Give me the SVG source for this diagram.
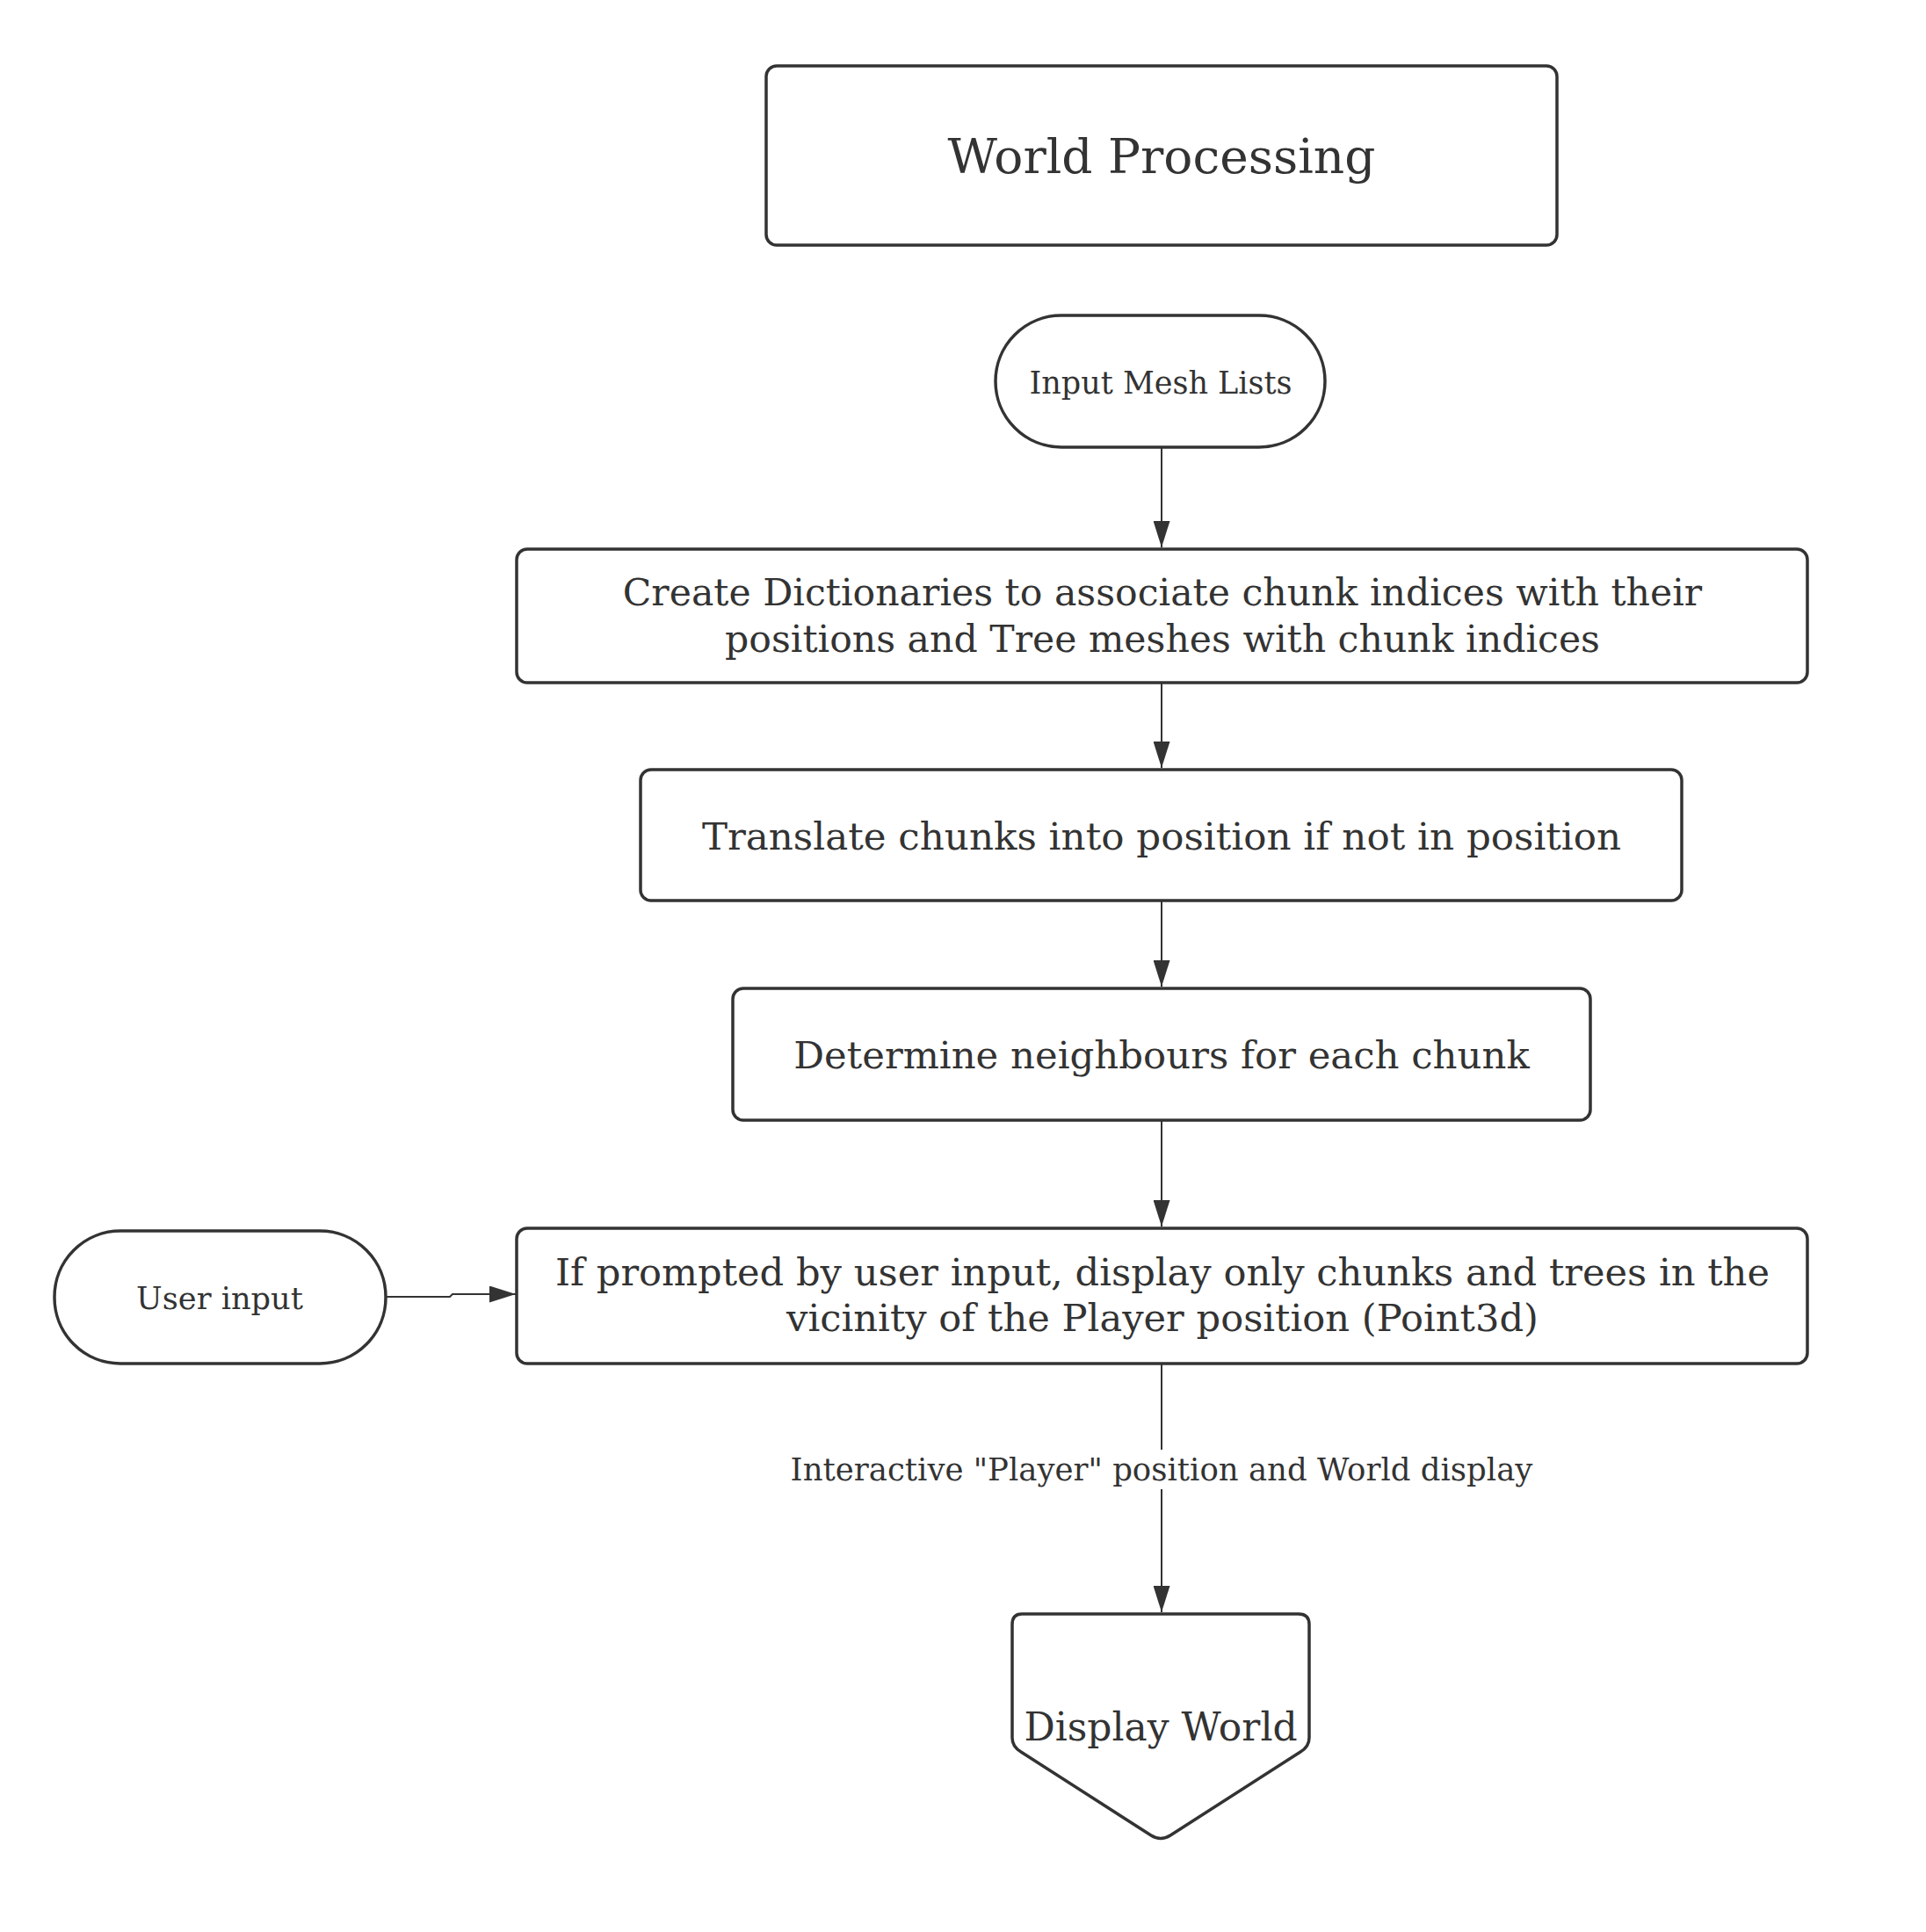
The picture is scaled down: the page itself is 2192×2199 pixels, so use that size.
<svg xmlns="http://www.w3.org/2000/svg" width="2192" height="2199" viewBox="0 0 2192 2199">
<style>
.box{fill:#ffffff;stroke:#333333;stroke-width:3.5}
.t{font-family:"DejaVu Serif","Liberation Serif",serif;fill:#333333;text-anchor:middle}
.c{fill:none;stroke:#333333;stroke-width:2}
</style>
<defs>
<marker id="ah" markerUnits="userSpaceOnUse" markerWidth="30" markerHeight="19" refX="30" refY="9.5" viewBox="0 0 30 19" orient="auto">
<path d="M0,0 L30,9.5 L0,19 Z" fill="#333333"/>
</marker>
</defs>
<rect width="2192" height="2199" fill="#ffffff"/>
<g id="connectors">
<path class="c" d="M1322,509 V623" marker-end="url(#ah)"/>
<path class="c" d="M1322,777 V874" marker-end="url(#ah)"/>
<path class="c" d="M1322,1025 V1123" marker-end="url(#ah)"/>
<path class="c" d="M1322,1275 V1396" marker-end="url(#ah)"/>
<path class="c" d="M1322,1552 V1650 M1322,1695 V1835" marker-end="url(#ah)"/>
<path class="c" d="M439,1476 H512 L515,1473 H587" marker-end="url(#ah)"/>
<text class="t" x="1322" y="1685" font-size="35.5">Interactive "Player" position and World display</text>
</g>
<g id="title">
<rect class="box" x="872" y="75" width="900" height="204" rx="12"/>
<text class="t" x="1322" y="197" font-size="55">World Processing</text>
</g>
<g id="input-mesh-lists">
<rect class="box" x="1133" y="359" width="375" height="150" rx="75"/>
<text class="t" x="1321" y="448" font-size="35">Input Mesh Lists</text>
</g>
<g id="create-dictionaries">
<rect class="box" x="588" y="625" width="1469" height="152" rx="12"/>
<text class="t" x="1323" y="689" font-size="42.6">Create Dictionaries to associate chunk indices with their</text>
<text class="t" x="1323" y="742" font-size="42.6">positions and Tree meshes with chunk indices</text>
</g>
<g id="translate-chunks">
<rect class="box" x="729" y="876" width="1185" height="149" rx="12"/>
<text class="t" x="1322" y="967" font-size="43.6">Translate chunks into position if not in position</text>
</g>
<g id="determine-neighbours">
<rect class="box" x="834" y="1125" width="976" height="150" rx="12"/>
<text class="t" x="1322" y="1216" font-size="43.4">Determine neighbours for each chunk</text>
</g>
<g id="display-vicinity">
<rect class="box" x="588" y="1398" width="1469" height="154" rx="12"/>
<text class="t" x="1323" y="1463" font-size="43.2">If prompted by user input, display only chunks and trees in the</text>
<text class="t" x="1323" y="1515" font-size="43.2">vicinity of the Player position (Point3d)</text>
</g>
<g id="user-input">
<rect class="box" x="62" y="1401" width="377" height="151" rx="75"/>
<text class="t" x="250" y="1490" font-size="35.2">User input</text>
</g>
<g id="display-world">
<path class="box" d="M1163,1837 H1478 Q1490,1837 1490,1849 V1978 Q1490,1988 1480,1994 L1332,2089 Q1321,2096 1310,2089 L1162,1994 Q1152,1988 1152,1978 V1849 Q1152,1837 1163,1837 Z"/>
<text class="t" x="1321" y="1981" font-size="44">Display World</text>
</g>
</svg>
